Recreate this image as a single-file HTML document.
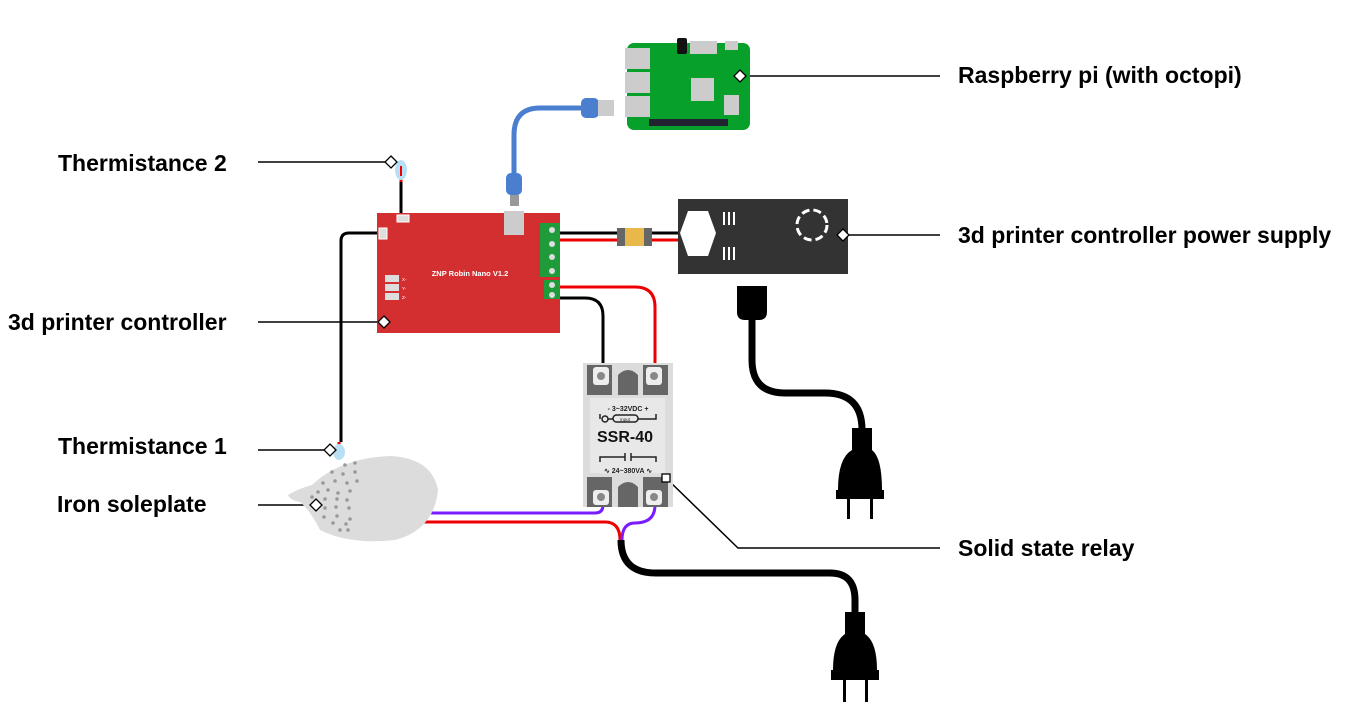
<!DOCTYPE html>
<html><head><meta charset="utf-8"><style>
html,body{margin:0;padding:0;background:#fff;}
svg{display:block;}
text{font-family:"Liberation Sans",sans-serif;}
.lbl{font-size:23px;font-weight:bold;fill:#000;}
</style></head><body>
<svg width="1345" height="705" viewBox="0 0 1345 705" xmlns="http://www.w3.org/2000/svg">
<!-- leader lines -->
<g stroke="#000" stroke-width="1.5" fill="none">
<line x1="258" y1="162" x2="391" y2="162"/>
<line x1="740" y1="76" x2="940" y2="76"/>
<line x1="843" y1="235" x2="940" y2="235"/>
<line x1="258" y1="322" x2="384" y2="322"/>
<line x1="258" y1="450" x2="330" y2="450"/>
<line x1="258" y1="505" x2="316" y2="505"/>
<polyline points="666,478 738,548 940,548"/>
</g>
<text class="lbl" x="58" y="171">Thermistance 2</text>
<text class="lbl" x="958" y="83">Raspberry pi (with octopi)</text>
<text class="lbl" x="958" y="243">3d printer controller power supply</text>
<text class="lbl" x="8" y="330">3d printer controller</text>
<text class="lbl" x="58" y="454">Thermistance 1</text>
<text class="lbl" x="57" y="512">Iron soleplate</text>
<text class="lbl" x="958" y="556">Solid state relay</text>

<!-- wires -->
<g fill="none" stroke-width="3">
<path d="M401 182 L401 214" stroke="#000"/>
<path d="M401 168 L401 182" stroke="#e00"/>
<path d="M377 233 L349 233 Q341 233 341 241 L341 442" stroke="#000"/>
<path d="M339 442 L339 452" stroke="#e00"/>
<path d="M560 233 L678 233" stroke="#000"/>
<path d="M560 240 L678 240" stroke="#e00"/>
<path d="M560 287 L635 287 Q655 287 655 307 L655 365" stroke="#e00"/>
<path d="M560 298 L585 298 Q603 298 603 316 L603 365" stroke="#000"/>
<path d="M430 513 L595 513 Q603 513 603 505" stroke="#7a1cff"/>
<path d="M422 522 L605 522 Q620 522 620 540" stroke="#e00"/>
<path d="M655 505 Q655 523 635 523 Q622 523 622 540" stroke="#7a1cff"/>
</g>
<path d="M514 178 L514 135 Q514 108 540 108 L588 108" fill="none" stroke="#4a7fd0" stroke-width="5"/>
<path d="M621 540 Q621 573 656 573 L830 573 Q855 573 855 600 L855 615" fill="none" stroke="#000" stroke-width="7"/>
<path d="M752 318 L752 360 Q752 393 785 393 L825 393 Q862 393 862 430" fill="none" stroke="#000" stroke-width="7"/>

<!-- probes -->
<ellipse cx="401" cy="170" rx="6" ry="10" fill="#b8e0f5"/>
<line x1="401" y1="166" x2="401" y2="176" stroke="#e00" stroke-width="2"/>
<ellipse cx="339" cy="452" rx="6" ry="8" fill="#b8e0f5"/>

<!-- controller -->
<rect x="377" y="213" width="183" height="120" fill="#d32f30"/>
<rect x="397" y="215" width="12" height="7" fill="#ddd" stroke="#fff"/>
<rect x="379" y="228" width="8" height="11" fill="#ddd" stroke="#fff"/>
<rect x="504" y="211" width="20" height="24" fill="#ccc"/>
<rect x="540" y="223" width="20" height="54" fill="#1f9b3a"/>
<rect x="544" y="280" width="16" height="19" fill="#1f9b3a"/>
<g fill="#ddd"><circle cx="552" cy="230" r="3"/><circle cx="552" cy="244" r="3"/><circle cx="552" cy="257" r="3"/><circle cx="552" cy="271" r="3"/><circle cx="552" cy="285" r="3"/><circle cx="552" cy="295" r="3"/></g>
<text x="470" y="276" font-size="7.5" font-weight="bold" fill="#fff" text-anchor="middle">ZNP Robin Nano V1.2</text>
<g fill="#ddd"><rect x="385" y="275" width="14" height="7"/><rect x="385" y="284" width="14" height="7"/><rect x="385" y="293" width="14" height="7"/></g>
<g font-size="4.5" fill="#fff"><text x="402" y="281">X-</text><text x="402" y="290">Y-</text><text x="402" y="299">Z-</text></g>

<!-- usb cable ends -->
<rect x="506" y="173" width="16" height="22" rx="5" fill="#4a7fd0"/>
<rect x="510" y="195" width="9" height="11" fill="#999"/>
<rect x="581" y="98" width="18" height="20" rx="5" fill="#4a7fd0"/>
<rect x="598" y="100" width="16" height="16" fill="#ccc"/>

<!-- raspberry pi -->
<rect x="627" y="43" width="123" height="87" rx="7" fill="#06a02a"/>
<g fill="#ccc"><rect x="625" y="48" width="25" height="21"/><rect x="625" y="72" width="25" height="21"/><rect x="625" y="96" width="25" height="21"/><rect x="690" y="41" width="27" height="13"/><rect x="725" y="41" width="13" height="9"/><rect x="691" y="78" width="23" height="23"/><rect x="724" y="95" width="15" height="20"/></g>
<rect x="677" y="38" width="10" height="16" rx="2" fill="#111"/>
<rect x="649" y="119" width="79" height="7" fill="#223"/>

<!-- psu -->
<rect x="678" y="199" width="170" height="75" fill="#333"/>
<polygon points="688,211 708,211 716,233 708,256 688,256 680,233" fill="#fff"/>
<g stroke="#fff" stroke-width="2"><line x1="724" y1="212" x2="724" y2="225"/><line x1="729" y1="212" x2="729" y2="225"/><line x1="734" y1="212" x2="734" y2="225"/><line x1="724" y1="247" x2="724" y2="260"/><line x1="729" y1="247" x2="729" y2="260"/><line x1="734" y1="247" x2="734" y2="260"/></g>
<circle cx="812" cy="225" r="15" fill="none" stroke="#fff" stroke-width="3" stroke-dasharray="8 4"/>
<!-- xt60 -->
<rect x="617" y="228" width="35" height="18" fill="#666"/>
<rect x="625" y="228" width="19" height="18" fill="#e8b94a"/>

<!-- power plug PSU -->
<path d="M737 286 L767 286 L767 312 Q767 320 759 320 L745 320 Q737 320 737 312 Z" fill="#000"/>
<path d="M852 428 L872 428 L872 450 Q882 458 882 490 L884 490 L884 499 L836 499 L836 490 L838 490 Q838 458 852 450 Z" fill="#000"/>
<rect x="847" y="499" width="3" height="20" fill="#000"/><rect x="870" y="499" width="3" height="20" fill="#000"/>
<!-- power plug SSR -->
<path d="M845 612 L865 612 L865 634 Q877 642 877 670 L879 670 L879 680 L831 680 L831 670 L833 670 Q833 642 845 634 Z" fill="#000"/>
<rect x="843" y="680" width="3" height="22" fill="#000"/><rect x="865" y="680" width="3" height="22" fill="#000"/>

<!-- SSR -->
<rect x="583" y="363" width="90" height="144" fill="#dcdcdc"/>
<g fill="#666"><rect x="587" y="365" width="25" height="30"/><rect x="643" y="365" width="25" height="30"/><rect x="587" y="477" width="25" height="30"/><rect x="643" y="477" width="25" height="30"/><path d="M618 395 L618 375 Q628 365 638 375 L638 395 Z"/><path d="M618 507 L618 487 Q628 477 638 487 L638 507 Z"/></g>
<g fill="#eee"><rect x="593" y="367" width="16" height="18" rx="3"/><rect x="646" y="367" width="16" height="18" rx="3"/><rect x="593" y="490" width="16" height="15" rx="3"/><rect x="646" y="490" width="16" height="15" rx="3"/></g>
<g fill="#888"><circle cx="601" cy="376" r="4"/><circle cx="654" cy="376" r="4"/><circle cx="601" cy="497" r="4"/><circle cx="654" cy="497" r="4"/></g>
<rect x="590" y="398" width="75" height="75" fill="#e8e8e8"/>
<text x="628" y="411" font-size="7" font-weight="bold" text-anchor="middle" fill="#222">-   3~32VDC   +</text>
<g stroke="#222" stroke-width="1.5" fill="none"><circle cx="605" cy="419" r="3"/><rect x="613" y="415" width="25" height="7" rx="3.5"/><line x1="608" y1="419" x2="613" y2="419"/><polyline points="638,419 656,419 656,414"/><line x1="600" y1="414" x2="600" y2="419"/><polyline points="600,462 600,457 625,457"/><polyline points="631,457 656,457 656,462"/><line x1="625" y1="453" x2="625" y2="461"/><line x1="631" y1="453" x2="631" y2="461"/></g>
<text x="625" y="421" font-size="4.5" text-anchor="middle" fill="#222">input</text>
<text x="597" y="442" font-size="16" font-weight="bold" fill="#111">SSR-40</text>
<text x="628" y="473" font-size="7" font-weight="bold" text-anchor="middle" fill="#222">∿  24~380VA  ∿</text>

<!-- iron -->
<path d="M288 495 Q300 488 312 485 Q340 458 390 456 Q432 458 438 490 Q434 530 395 540 Q350 545 320 530 Q310 510 300 502 Q290 500 288 495 Z" fill="#dcdcdc"/>
<g fill="#999">
<circle cx="345" cy="465" r="1.8"/><circle cx="355" cy="463" r="1.8"/><circle cx="332" cy="472" r="1.8"/><circle cx="343" cy="474" r="1.8"/><circle cx="355" cy="472" r="1.8"/><circle cx="323" cy="483" r="1.8"/><circle cx="335" cy="481" r="1.8"/><circle cx="347" cy="483" r="1.8"/><circle cx="357" cy="481" r="1.8"/><circle cx="318" cy="492" r="1.8"/><circle cx="328" cy="490" r="1.8"/><circle cx="338" cy="493" r="1.8"/><circle cx="350" cy="491" r="1.8"/><circle cx="312" cy="497" r="1.8"/><circle cx="325" cy="499" r="1.8"/><circle cx="337" cy="499" r="1.8"/><circle cx="347" cy="500" r="1.8"/><circle cx="325" cy="508" r="1.8"/><circle cx="336" cy="507" r="1.8"/><circle cx="349" cy="508" r="1.8"/><circle cx="324" cy="517" r="1.8"/><circle cx="337" cy="516" r="1.8"/><circle cx="350" cy="519" r="1.8"/><circle cx="333" cy="523" r="1.8"/><circle cx="346" cy="524" r="1.8"/><circle cx="340" cy="530" r="1.8"/><circle cx="348" cy="530" r="1.8"/></g>

<!-- markers -->
<g fill="#fff" stroke="#000" stroke-width="1.3">
<polygon points="391,156 397,162 391,168 385,162"/>
<polygon points="740,70 746,76 740,82 734,76"/>
<polygon points="843,229 849,235 843,241 837,235"/>
<polygon points="384,316 390,322 384,328 378,322"/>
<polygon points="330,444 336,450 330,456 324,450"/>
<polygon points="316,499 322,505 316,511 310,505"/>
<rect x="662" y="474" width="8" height="8"/>
</g>
</svg>
</body></html>
